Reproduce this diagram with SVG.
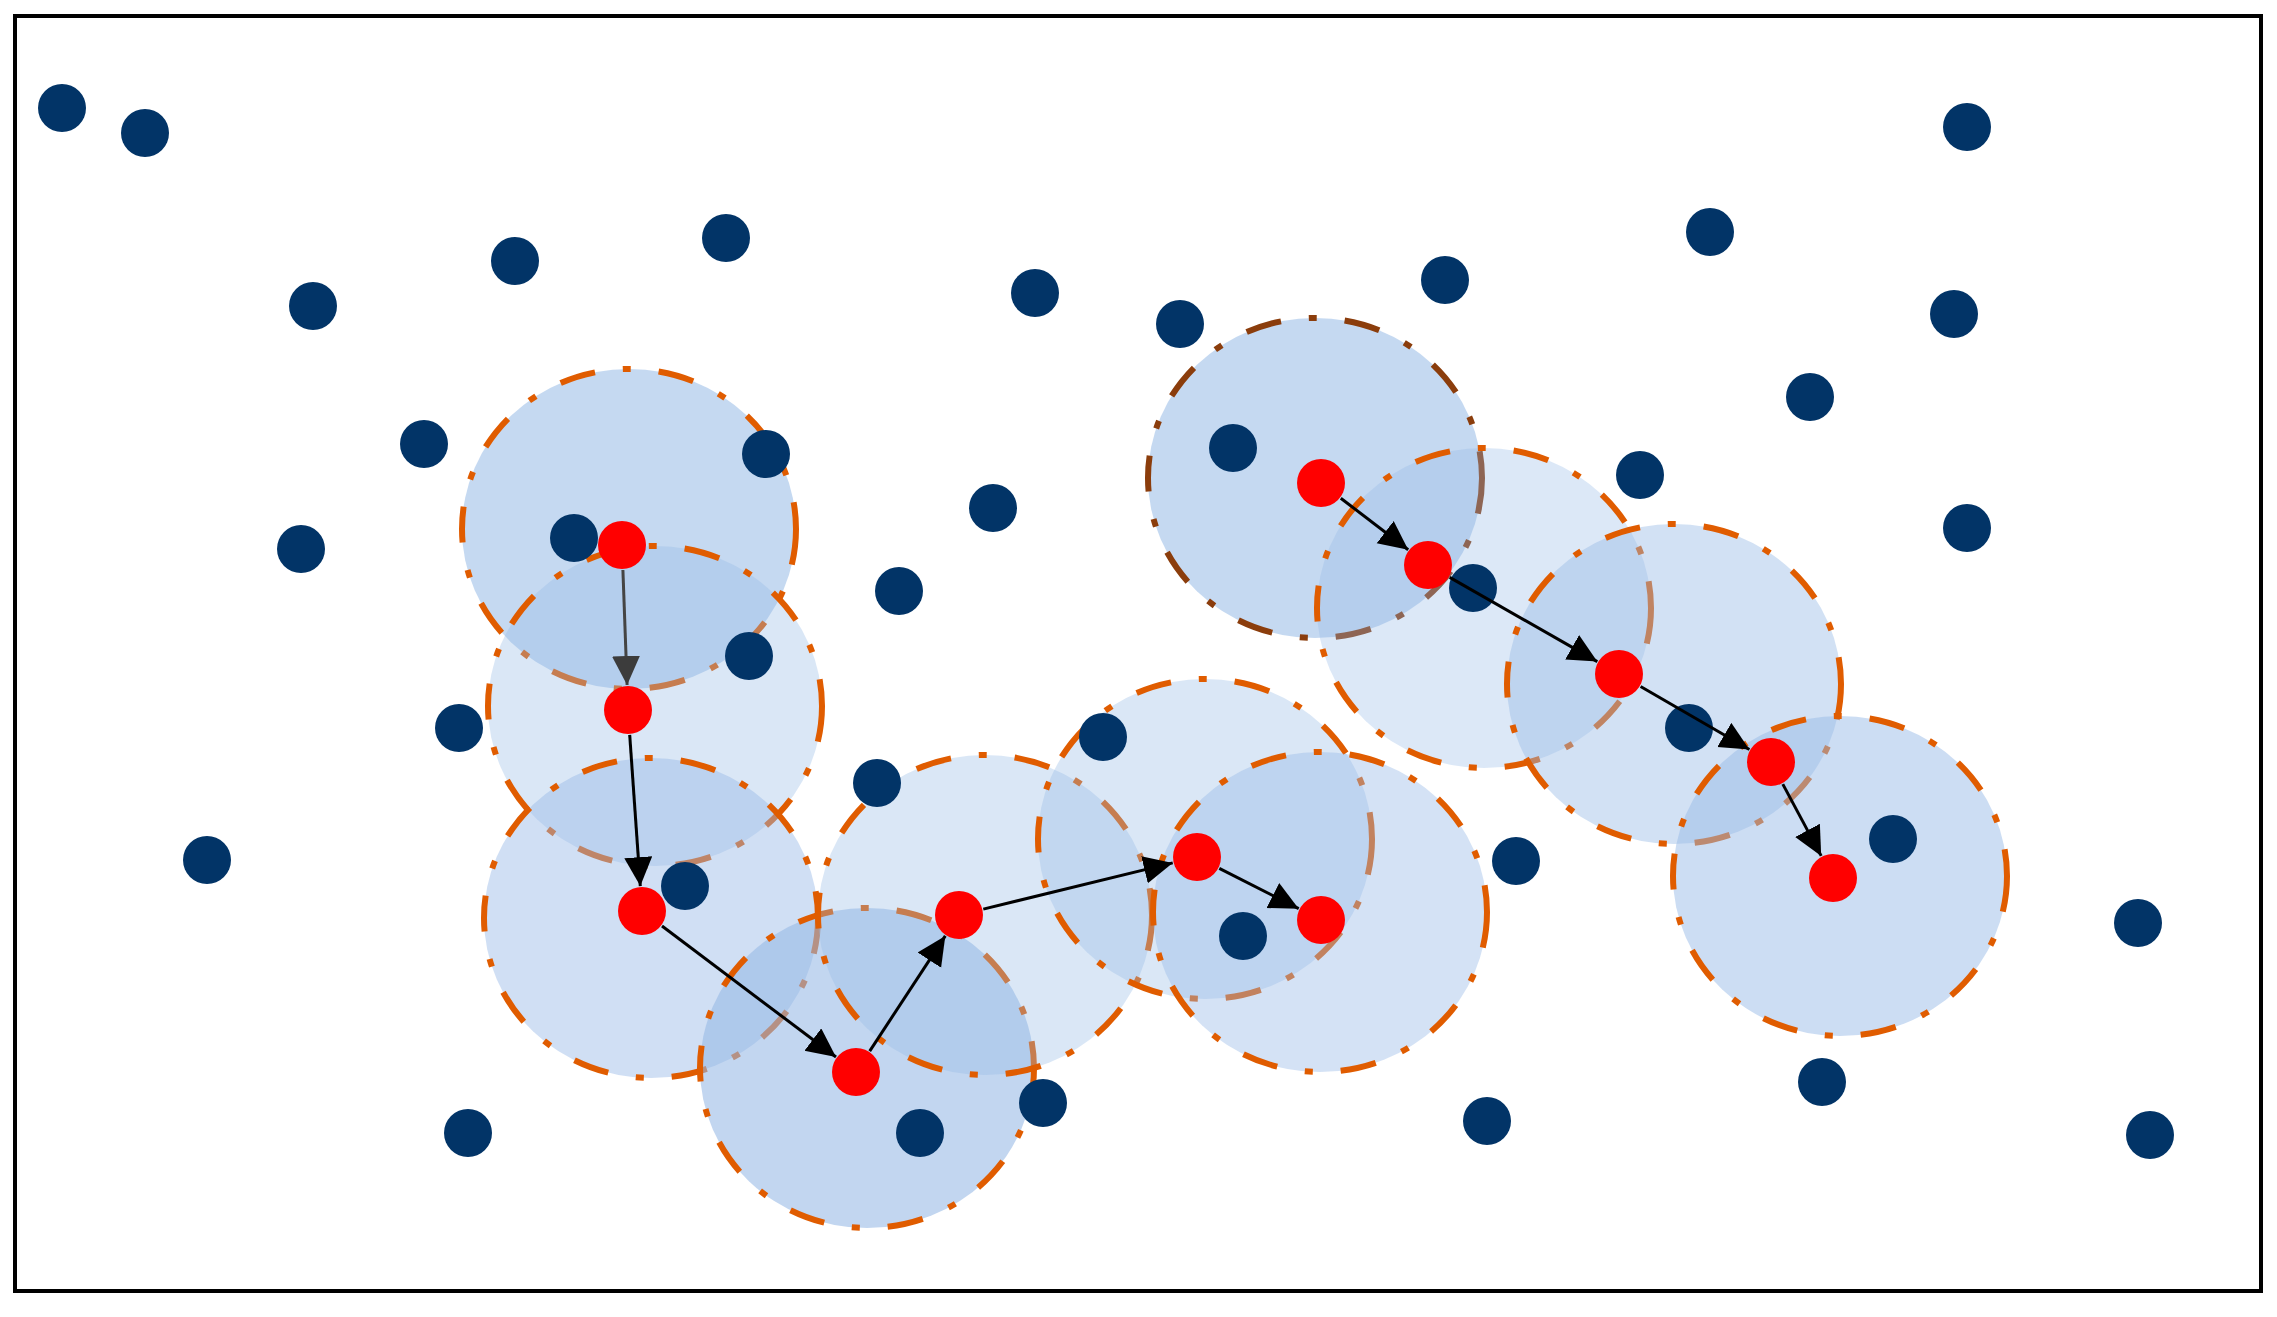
<svg xmlns="http://www.w3.org/2000/svg" width="2277" height="1317" viewBox="0 0 2277 1317">
<style>
.area{fill:#96b9e6;stroke:#e05c00;stroke-width:6;stroke-dasharray:36 28 8 28;stroke-linecap:butt}
.area.cur{stroke:#8b3d0c}
.dot{fill:#023467}
.node{fill:#ff0000}
.edge{stroke:#000;stroke-width:3;fill:none;marker-end:url(#head)}
.edge.first{stroke:#444;marker-end:url(#headGray)}
</style>
<defs>
<marker id="head" markerUnits="userSpaceOnUse" markerWidth="30" markerHeight="29" refX="29" refY="14" orient="auto"><path d="M0,0 L29,14 L0,28 z" fill="#000"/></marker>
<marker id="headGray" markerUnits="userSpaceOnUse" markerWidth="30" markerHeight="29" refX="29" refY="14" orient="auto"><path d="M0,0 L29,14 L0,28 z" fill="#3c3c3c"/></marker>
</defs>
<rect x="0" y="0" width="2277" height="1317" fill="#fff"/>
<rect x="15" y="16" width="2246" height="1275" fill="none" stroke="#000" stroke-width="4"/>
<g id="areas">
<ellipse id="area-A" class="area" cx="629" cy="529" rx="167" ry="160" fill-opacity="0.55"/>
<ellipse id="area-B" class="area" cx="655" cy="706" rx="167" ry="160" fill-opacity="0.35"/>
<ellipse id="area-C" class="area" cx="651" cy="918" rx="167" ry="160" fill-opacity="0.45"/>
<ellipse id="area-D" class="area" cx="867" cy="1068" rx="167" ry="160" fill-opacity="0.58"/>
<ellipse id="area-E" class="area" cx="985" cy="915" rx="167" ry="160" fill-opacity="0.35"/>
<ellipse id="area-F" class="area" cx="1205" cy="839" rx="167" ry="160" fill-opacity="0.35"/>
<ellipse id="area-G" class="area" cx="1320" cy="912" rx="167" ry="160" fill-opacity="0.41"/>
<ellipse id="area-H" class="area cur" cx="1315" cy="478" rx="167" ry="160" fill-opacity="0.55"/>
<ellipse id="area-I" class="area" cx="1484" cy="608" rx="167" ry="160" fill-opacity="0.33"/>
<ellipse id="area-J" class="area" cx="1674" cy="684" rx="167" ry="160" fill-opacity="0.43"/>
<ellipse id="area-L" class="area" cx="1840" cy="876" rx="167" ry="160" fill-opacity="0.49"/>
</g>
<g id="points">
<circle id="p1" class="dot" cx="62" cy="108" r="24"/>
<circle id="p2" class="dot" cx="145" cy="133" r="24"/>
<circle id="p3" class="dot" cx="313" cy="306" r="24"/>
<circle id="p4" class="dot" cx="515" cy="261" r="24"/>
<circle id="p5" class="dot" cx="726" cy="238" r="24"/>
<circle id="p6" class="dot" cx="1035" cy="293" r="24"/>
<circle id="p7" class="dot" cx="1180" cy="324" r="24"/>
<circle id="p8" class="dot" cx="1445" cy="280" r="24"/>
<circle id="p9" class="dot" cx="1710" cy="232" r="24"/>
<circle id="p10" class="dot" cx="1967" cy="127" r="24"/>
<circle id="p11" class="dot" cx="1954" cy="314" r="24"/>
<circle id="p12" class="dot" cx="1810" cy="397" r="24"/>
<circle id="p13" class="dot" cx="1640" cy="475" r="24"/>
<circle id="p14" class="dot" cx="1967" cy="528" r="24"/>
<circle id="p15" class="dot" cx="424" cy="444" r="24"/>
<circle id="p16" class="dot" cx="766" cy="454" r="24"/>
<circle id="p17" class="dot" cx="301" cy="549" r="24"/>
<circle id="p18" class="dot" cx="574" cy="538" r="24"/>
<circle id="p19" class="dot" cx="993" cy="508" r="24"/>
<circle id="p20" class="dot" cx="899" cy="591" r="24"/>
<circle id="p21" class="dot" cx="1233" cy="448" r="24"/>
<circle id="p22" class="dot" cx="749" cy="656" r="24"/>
<circle id="p23" class="dot" cx="459" cy="728" r="24"/>
<circle id="p24" class="dot" cx="1103" cy="737" r="24"/>
<circle id="p25" class="dot" cx="877" cy="783" r="24"/>
<circle id="p26" class="dot" cx="1473" cy="588" r="24"/>
<circle id="p27" class="dot" cx="1689" cy="728" r="24"/>
<circle id="p28" class="dot" cx="207" cy="860" r="24"/>
<circle id="p29" class="dot" cx="685" cy="886" r="24"/>
<circle id="p30" class="dot" cx="1516" cy="861" r="24"/>
<circle id="p31" class="dot" cx="1893" cy="839" r="24"/>
<circle id="p32" class="dot" cx="1243" cy="936" r="24"/>
<circle id="p33" class="dot" cx="2138" cy="923" r="24"/>
<circle id="p34" class="dot" cx="468" cy="1133" r="24"/>
<circle id="p35" class="dot" cx="920" cy="1133" r="24"/>
<circle id="p36" class="dot" cx="1043" cy="1103" r="24"/>
<circle id="p37" class="dot" cx="1487" cy="1121" r="24"/>
<circle id="p38" class="dot" cx="1822" cy="1082" r="24"/>
<circle id="p39" class="dot" cx="2150" cy="1135" r="24"/>
</g>
<g id="connectors">
<line class="edge first" x1="622.9" y1="570" x2="627.1" y2="685"/>
<line class="edge" x1="629.7" y1="734.9" x2="640.3" y2="886.1"/>
<line class="edge" x1="662" y1="926" x2="836" y2="1057"/>
<line class="edge" x1="869.7" y1="1051.1" x2="945.3" y2="935.9"/>
<line class="edge" x1="983.3" y1="909.1" x2="1172.7" y2="862.9"/>
<line class="edge" x1="1219.3" y1="868.3" x2="1298.7" y2="908.7"/>
<line class="edge" x1="1340.8" y1="498.2" x2="1408.2" y2="549.8"/>
<line class="edge" x1="1449.7" y1="577.4" x2="1597.3" y2="661.6"/>
<line class="edge" x1="1640.6" y1="686.5" x2="1749.4" y2="749.5"/>
<line class="edge" x1="1782.8" y1="784.1" x2="1821.2" y2="855.9"/>
</g>
<g id="path-nodes">
<circle id="nA" class="node" cx="622" cy="545" r="24"/>
<circle id="nB" class="node" cx="628" cy="710" r="24"/>
<circle id="nC" class="node" cx="642" cy="911" r="24"/>
<circle id="nD" class="node" cx="856" cy="1072" r="24"/>
<circle id="nE" class="node" cx="959" cy="915" r="24"/>
<circle id="nF" class="node" cx="1197" cy="857" r="24"/>
<circle id="nG" class="node" cx="1321" cy="920" r="24"/>
<circle id="nH" class="node" cx="1321" cy="483" r="24"/>
<circle id="nI" class="node" cx="1428" cy="565" r="24"/>
<circle id="nJ" class="node" cx="1619" cy="674" r="24"/>
<circle id="nK" class="node" cx="1771" cy="762" r="24"/>
<circle id="nL" class="node" cx="1833" cy="878" r="24"/>
</g>
</svg>
